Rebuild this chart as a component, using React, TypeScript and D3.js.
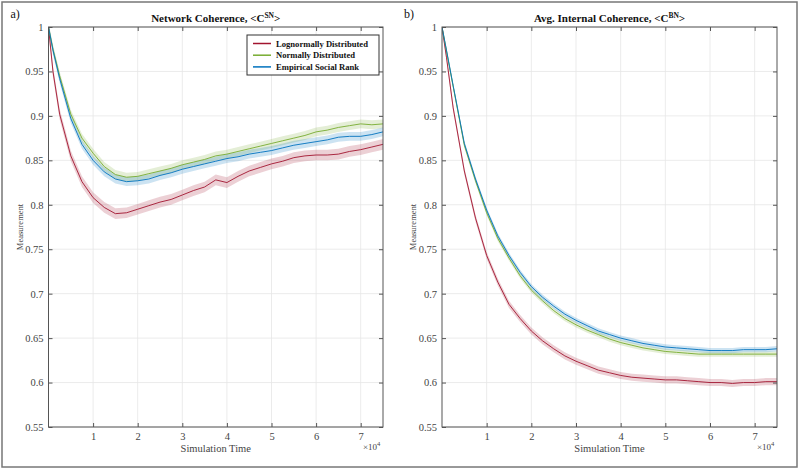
import { useRef, useEffect } from "react";
import * as d3 from "d3";

// simulation time samples
const times = [
  0, 1000, 2500, 5000, 7500, 10000, 12500, 15000, 17500, 20000, 22500, 25000,
  27500, 30000, 32500, 35000, 37500, 40000, 42500, 45000, 47500, 50000, 52500,
  55000, 57500, 60000, 62500, 65000, 67500, 70000, 72500, 75000,
];

// a) Network coherence
const netLognormal = [
  1, 0.95, 0.902, 0.855, 0.826, 0.808, 0.797, 0.79, 0.791, 0.795, 0.799, 0.803,
  0.806, 0.811, 0.816, 0.82, 0.828, 0.825, 0.832, 0.838, 0.842, 0.846, 0.849,
  0.853, 0.855, 0.856, 0.856, 0.857, 0.86, 0.862, 0.865, 0.868,
];
const netNormal = [
  1, 0.975, 0.945, 0.902, 0.875, 0.858, 0.843, 0.834, 0.831, 0.832, 0.835,
  0.838, 0.841, 0.845, 0.848, 0.851, 0.855, 0.857, 0.86, 0.863, 0.866, 0.869,
  0.872, 0.875, 0.878, 0.882, 0.884, 0.887, 0.889, 0.891, 0.89, 0.891,
];
const netEmpirical = [
  1, 0.974, 0.942, 0.897, 0.868, 0.85, 0.837, 0.829, 0.826, 0.827, 0.829, 0.833,
  0.836, 0.84, 0.843, 0.846, 0.849, 0.852, 0.854, 0.857, 0.859, 0.861, 0.864,
  0.867, 0.869, 0.871, 0.873, 0.876, 0.877, 0.877, 0.879, 0.882,
];

// b) Avg. internal coherence
const intLognormal = [
  1, 0.966, 0.909, 0.838, 0.785, 0.743, 0.713, 0.688, 0.672, 0.658, 0.647,
  0.638, 0.63, 0.624, 0.619, 0.614, 0.611, 0.608, 0.606, 0.605, 0.604, 0.603,
  0.603, 0.602, 0.601, 0.6, 0.6, 0.599, 0.6, 0.6, 0.601, 0.601,
];
const intNormal = [
  1, 0.973, 0.933, 0.867, 0.827, 0.791, 0.762, 0.74, 0.72, 0.704, 0.692, 0.681,
  0.672, 0.665, 0.659, 0.654, 0.649, 0.645, 0.642, 0.639, 0.637, 0.635, 0.634,
  0.633, 0.632, 0.632, 0.632, 0.632, 0.632, 0.632, 0.632, 0.632,
];
const intEmpirical = [
  1, 0.974, 0.934, 0.869, 0.829, 0.794, 0.765, 0.743, 0.724, 0.708, 0.696,
  0.686, 0.677, 0.67, 0.664, 0.658, 0.654, 0.65, 0.647, 0.644, 0.642, 0.64,
  0.639, 0.638, 0.637, 0.636, 0.636, 0.636, 0.637, 0.637, 0.637, 0.638,
];

// half width of the shaded error bands
const netBand = [0.006, 0.005, 0.005];
const intBand = [0.004, 0.003, 0.003];

const seriesNames = [
  "Lognormally Distributed",
  "Normally Distributed",
  "Empirical Social Rank",
];
const seriesColors = ["#a2142f", "#77ac30", "#0072bd"];

const xTicks = [10000, 20000, 30000, 40000, 50000, 60000, 70000];
const yTicks = [0.55, 0.6, 0.65, 0.7, 0.75, 0.8, 0.85, 0.9, 0.95, 1];

const FONT = "'Liberation Serif', 'Times New Roman', serif";
const plotTop = 27;
const plotBottom = 427;

type Panel = {
  id: string;
  tag: string;
  title: string;
  sup: string;
  left: number;
  right: number;
  series: number[][];
  band: number[];
  legend: boolean;
};

type Sel = d3.Selection<SVGSVGElement, unknown, null, undefined>;

function drawPanel(svg: Sel, p: Panel) {
  const x = d3.scaleLinear().domain([0, 75000]).range([p.left, p.right]);
  const y = d3.scaleLinear().domain([0.55, 1]).range([plotBottom, plotTop]);
  const g = svg.append("g");

  svg
    .append("defs")
    .append("clipPath")
    .attr("id", `clip-${p.id}`)
    .append("rect")
    .attr("x", p.left)
    .attr("y", plotTop)
    .attr("width", p.right - p.left)
    .attr("height", plotBottom - plotTop);

  // grid
  g.append("g")
    .selectAll("line")
    .data(xTicks)
    .join("line")
    .attr("x1", (d) => x(d))
    .attr("x2", (d) => x(d))
    .attr("y1", plotTop)
    .attr("y2", plotBottom)
    .attr("stroke", "#e6e6e6")
    .attr("stroke-width", 0.8);
  g.append("g")
    .selectAll("line")
    .data(yTicks)
    .join("line")
    .attr("x1", p.left)
    .attr("x2", p.right)
    .attr("y1", (d) => y(d))
    .attr("y2", (d) => y(d))
    .attr("stroke", "#e6e6e6")
    .attr("stroke-width", 0.8);

  const plot = g.append("g").attr("clip-path", `url(#clip-${p.id})`);

  // bands
  p.series.forEach((vals, i) => {
    const area = d3
      .area<number>()
      .x((_, j) => x(times[j]))
      .y0((v) => y(v - p.band[i]))
      .y1((v) => y(v + p.band[i]));
    plot
      .append("path")
      .attr("d", area(vals))
      .attr("fill", seriesColors[i])
      .attr("fill-opacity", 0.2);
  });
  // lines
  p.series.forEach((vals, i) => {
    const line = d3
      .line<number>()
      .x((_, j) => x(times[j]))
      .y((v) => y(v));
    plot
      .append("path")
      .attr("d", line(vals))
      .attr("fill", "none")
      .attr("stroke", seriesColors[i])
      .attr("stroke-width", 0.9);
  });

  // axes (ticks inward on all four sides)
  const axisColor = "#555";
  const bottomAxis = g
    .append("g")
    .attr("transform", `translate(0,${plotBottom})`)
    .call(
      d3
        .axisBottom(x)
        .tickValues(xTicks)
        .tickSizeInner(-4)
        .tickSizeOuter(0)
        .tickPadding(6)
        .tickFormat((d) => String(+d / 10000)) as any
    );
  const leftAxis = g
    .append("g")
    .attr("transform", `translate(${p.left},0)`)
    .call(
      d3
        .axisLeft(y)
        .tickValues(yTicks)
        .tickSizeInner(-4)
        .tickSizeOuter(0)
        .tickPadding(5)
        .tickFormat((d) => String(+(+d).toFixed(2))) as any
    );
  const topAxis = g
    .append("g")
    .attr("transform", `translate(0,${plotTop})`)
    .call(
      d3
        .axisTop(x)
        .tickValues(xTicks)
        .tickSizeInner(-4)
        .tickSizeOuter(0)
        .tickFormat(() => "") as any
    );
  const rightAxis = g
    .append("g")
    .attr("transform", `translate(${p.right},0)`)
    .call(
      d3
        .axisRight(y)
        .tickValues(yTicks)
        .tickSizeInner(-4)
        .tickSizeOuter(0)
        .tickFormat(() => "") as any
    );
  [bottomAxis, leftAxis, topAxis, rightAxis].forEach((a) => {
    a.select(".domain").remove();
    a.selectAll("line").attr("stroke", axisColor);
    a.selectAll("text")
      .attr("font-family", FONT)
      .attr("font-size", 10.5)
      .attr("fill", "#444");
  });

  g.append("rect")
    .attr("x", p.left)
    .attr("y", plotTop)
    .attr("width", p.right - p.left)
    .attr("height", plotBottom - plotTop)
    .attr("fill", "none")
    .attr("stroke", axisColor)
    .attr("stroke-width", 1);

  const cx = (p.left + p.right) / 2;

  // title
  const t = g
    .append("text")
    .attr("x", cx)
    .attr("y", 22)
    .attr("text-anchor", "middle")
    .attr("font-family", FONT)
    .attr("font-weight", "bold")
    .attr("font-size", 11)
    .attr("fill", "#111");
  t.append("tspan").text(`${p.title}, <C`);
  t.append("tspan").attr("dy", -4).attr("font-size", 7.5).text(p.sup);
  t.append("tspan").attr("dy", 4).text(">");

  // panel tag
  g.append("text")
    .attr("x", p.left - 38)
    .attr("y", 18)
    .attr("font-family", FONT)
    .attr("font-size", 12)
    .attr("fill", "#111")
    .text(p.tag);

  // axis labels
  g.append("text")
    .attr("x", cx)
    .attr("y", 452)
    .attr("text-anchor", "middle")
    .attr("font-family", FONT)
    .attr("font-size", 10.5)
    .attr("fill", "#444")
    .text("Simulation Time");
  g.append("text")
    .attr("transform", `translate(${p.left - 26},${(plotTop + plotBottom) / 2}) rotate(-90)`)
    .attr("text-anchor", "middle")
    .attr("font-family", FONT)
    .attr("font-size", 8.5)
    .attr("fill", "#444")
    .text("Measurement");

  const e = g
    .append("text")
    .attr("x", p.right - 20)
    .attr("y", 450)
    .attr("font-family", FONT)
    .attr("font-size", 9)
    .attr("fill", "#444");
  e.append("tspan").text("\u00d710");
  e.append("tspan").attr("dy", -4).attr("font-size", 6.5).text("4");

  if (p.legend) {
    const lx = p.right - 136;
    const ly = 35;
    const lg = g.append("g");
    lg.append("rect")
      .attr("x", lx)
      .attr("y", ly)
      .attr("width", 132)
      .attr("height", 40)
      .attr("fill", "#fff")
      .attr("stroke", "#333")
      .attr("stroke-width", 1);
    seriesNames.forEach((name, i) => {
      const yy = ly + 8.5 + i * 11.7;
      lg.append("line")
        .attr("x1", lx + 6)
        .attr("x2", lx + 24)
        .attr("y1", yy)
        .attr("y2", yy)
        .attr("stroke", seriesColors[i])
        .attr("stroke-width", 1.5);
      lg.append("text")
        .attr("x", lx + 29)
        .attr("y", yy + 3)
        .attr("font-family", FONT)
        .attr("font-weight", "bold")
        .attr("font-size", 8.6)
        .attr("fill", "#111")
        .text(name);
    });
  }
}

const App = () => {
  const ref = useRef<SVGSVGElement | null>(null);

  useEffect(() => {
    if (!ref.current) return;
    const svg = d3.select(ref.current);
    svg.selectAll("*").remove();

    svg
      .append("rect")
      .attr("x", 2)
      .attr("y", 2)
      .attr("width", 795)
      .attr("height", 465)
      .attr("fill", "#fff")
      .attr("stroke", "#777")
      .attr("stroke-width", 1.5);

    drawPanel(svg, {
      id: "a",
      tag: "a)",
      title: "Network Coherence",
      sup: "SN",
      left: 48.5,
      right: 383,
      series: [netLognormal, netNormal, netEmpirical],
      band: netBand,
      legend: true,
    });
    drawPanel(svg, {
      id: "b",
      tag: "b)",
      title: "Avg. Internal Coherence",
      sup: "BN",
      left: 442,
      right: 777,
      series: [intLognormal, intNormal, intEmpirical],
      band: intBand,
      legend: false,
    });
  }, []);

  return (
    <svg
      ref={ref}
      width={800}
      height={470}
      style={{ position: "absolute", left: 0, top: 0, background: "#fff" }}
    />
  );
};

export default App;
